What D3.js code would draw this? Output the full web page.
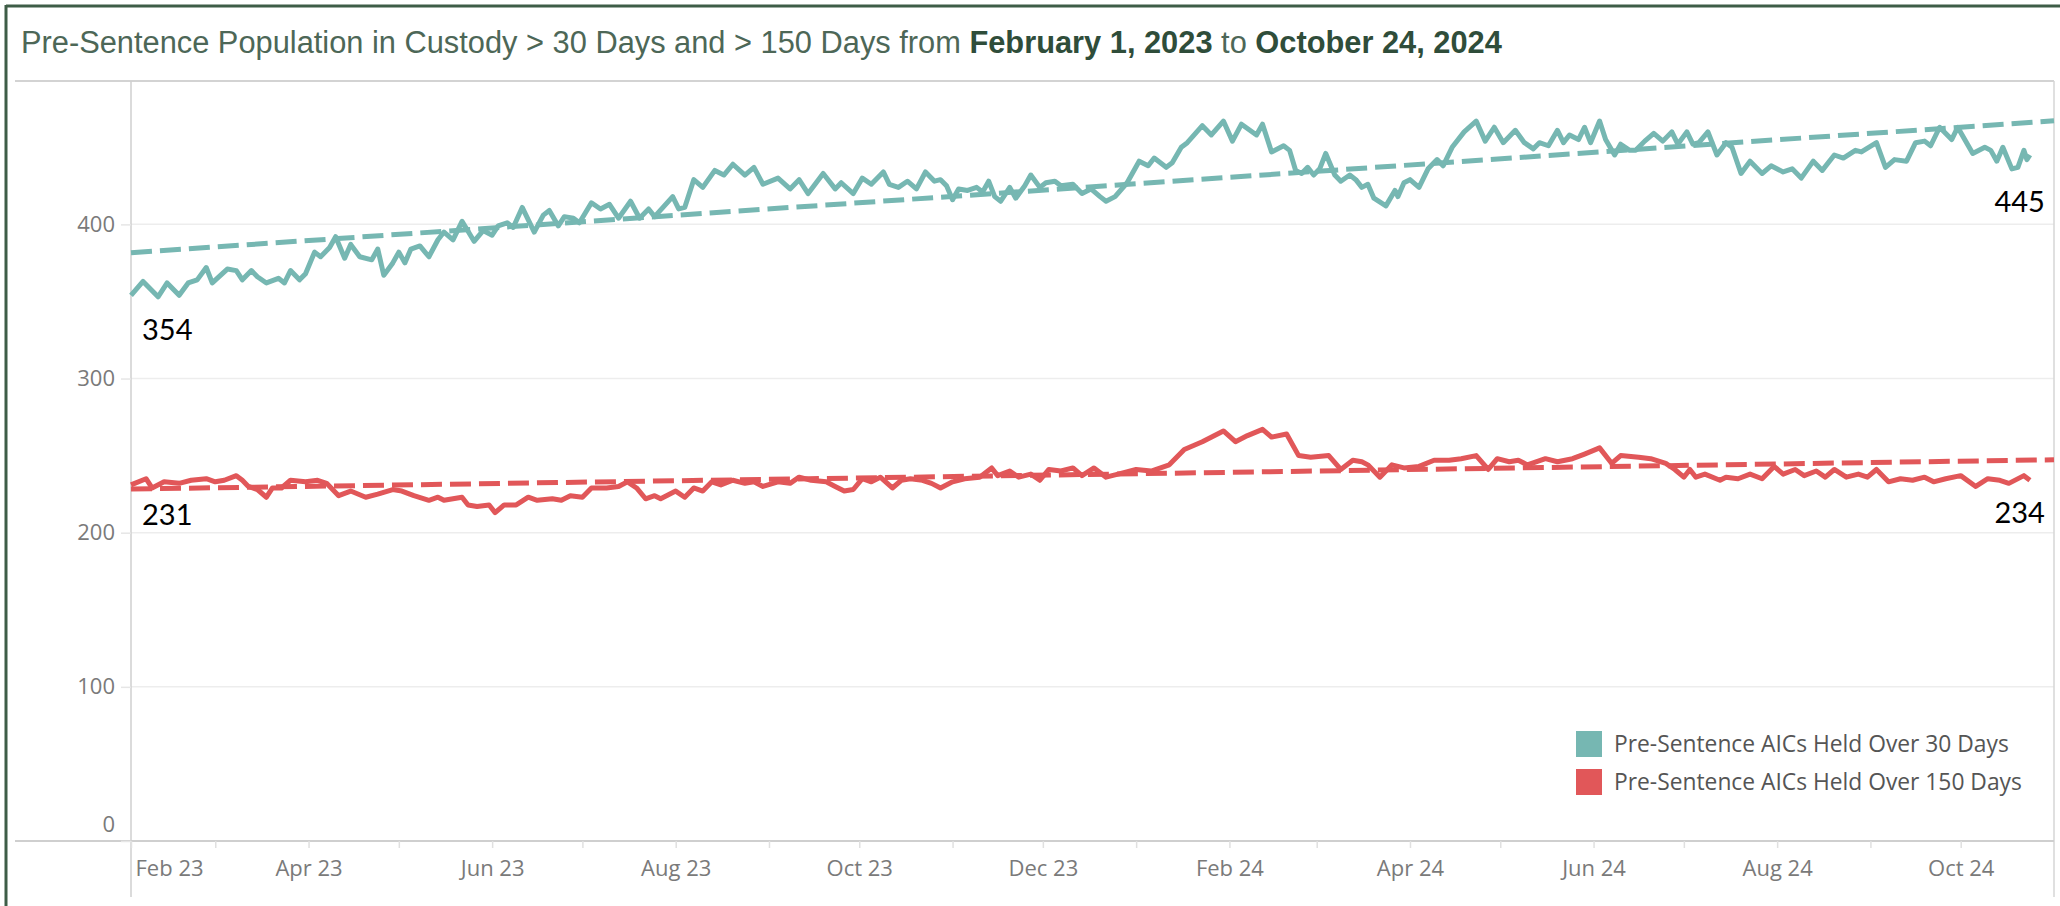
<!DOCTYPE html>
<html>
<head>
<meta charset="utf-8">
<script src="https://cdn.jsdelivr.net/npm/d3@7"></script>
<style>
	body { margin: 0; background: #fff; }
	svg { display: block; }
</style>
</head>
<body>
<script>
// frame and plot edges
var width = 2060, height = 906;
var plot_left = 131, plot_right = 2054, plot_top = 81, plot_zero = 841, plot_bottom = 897;

// Pre-Sentence AICs Held Over 30 Days (peaks and troughs)
var dates30 = [
	'2023-02-01','2023-02-05','2023-02-10','2023-02-13','2023-02-17','2023-02-20','2023-02-23','2023-02-26','2023-02-28',
	'2023-03-05','2023-03-08','2023-03-10','2023-03-13','2023-03-15','2023-03-18','2023-03-22','2023-03-24','2023-03-26','2023-03-29','2023-03-31',
	'2023-04-03','2023-04-05','2023-04-08','2023-04-10','2023-04-13','2023-04-15','2023-04-18','2023-04-22','2023-04-24','2023-04-26','2023-04-29',
	'2023-05-01','2023-05-03','2023-05-05','2023-05-08','2023-05-11','2023-05-14','2023-05-16','2023-05-19','2023-05-22','2023-05-26','2023-05-29',
	'2023-06-01','2023-06-03','2023-06-06','2023-06-08','2023-06-11','2023-06-15','2023-06-18','2023-06-20','2023-06-23','2023-06-25','2023-06-28','2023-06-30',
	'2023-07-04','2023-07-07','2023-07-10','2023-07-13','2023-07-17','2023-07-20','2023-07-23','2023-07-25','2023-07-31',
	'2023-08-02','2023-08-04','2023-08-07','2023-08-10','2023-08-14','2023-08-17','2023-08-20','2023-08-24','2023-08-27','2023-08-30',
	'2023-09-04','2023-09-08','2023-09-11','2023-09-14','2023-09-19','2023-09-23','2023-09-25','2023-09-29',
	'2023-10-02','2023-10-05','2023-10-09','2023-10-11','2023-10-14','2023-10-17','2023-10-20','2023-10-23','2023-10-26','2023-10-28','2023-10-30',
	'2023-11-01','2023-11-03','2023-11-06','2023-11-09','2023-11-11','2023-11-13','2023-11-15','2023-11-17','2023-11-20','2023-11-22','2023-11-25','2023-11-27','2023-11-30',
	'2023-12-02','2023-12-05','2023-12-07','2023-12-11','2023-12-14','2023-12-17','2023-12-20','2023-12-22','2023-12-25','2023-12-29',
	'2024-01-02','2024-01-05','2024-01-07','2024-01-11','2024-01-13','2024-01-16','2024-01-18','2024-01-23','2024-01-26','2024-01-30',
	'2024-02-02','2024-02-05','2024-02-10','2024-02-12','2024-02-15','2024-02-19','2024-02-21','2024-02-23','2024-02-25','2024-02-27','2024-02-29',
	'2024-03-02','2024-03-04','2024-03-07','2024-03-09','2024-03-12','2024-03-14','2024-03-16','2024-03-18','2024-03-20','2024-03-24','2024-03-27','2024-03-28','2024-03-30',
	'2024-04-01','2024-04-04','2024-04-07','2024-04-10','2024-04-12','2024-04-15','2024-04-19','2024-04-23','2024-04-26','2024-04-29',
	'2024-05-02','2024-05-06','2024-05-09','2024-05-12','2024-05-14','2024-05-17','2024-05-20','2024-05-22','2024-05-24','2024-05-27','2024-05-29','2024-05-31',
	'2024-06-03','2024-06-05','2024-06-08','2024-06-10','2024-06-13','2024-06-15','2024-06-18','2024-06-21','2024-06-24','2024-06-27','2024-06-29',
	'2024-07-02','2024-07-04','2024-07-06','2024-07-09','2024-07-12','2024-07-15','2024-07-17','2024-07-20','2024-07-23','2024-07-27','2024-07-30',
	'2024-08-03','2024-08-06','2024-08-09','2024-08-13','2024-08-16','2024-08-20','2024-08-23','2024-08-27','2024-08-29',
	'2024-09-03','2024-09-06','2024-09-09','2024-09-13','2024-09-16','2024-09-19','2024-09-21','2024-09-24','2024-09-28','2024-09-30',
	'2024-10-05','2024-10-09','2024-10-11','2024-10-13','2024-10-15','2024-10-18','2024-10-20','2024-10-22','2024-10-23','2024-10-24'
];
var values30 = [
	354,363,353,362,354,362,364,372,362,
	371,370,364,370,366,362,365,362,370,364,368,
	382,379,385,392,378,387,379,377,384,367,375,
	382,375,384,386,379,390,395,390,402,389,396,
	393,399,401,398,411,395,406,409,399,405,404,401,
	414,410,413,404,415,404,410,405,418,
	410,411,429,424,435,432,439,432,437,426,
	430,423,429,420,433,423,427,420,
	430,426,434,426,424,428,423,434,428,429,425,
	416,423,422,424,421,428,418,415,424,417,425,432,424,
	427,428,425,426,420,423,418,415,418,427,
	441,438,443,437,440,450,453,464,458,467,
	454,465,458,465,447,451,448,435,433,437,432,
	436,446,432,428,432,429,424,426,417,412,422,418,427,
	429,424,436,442,438,450,460,467,454,463,
	453,461,453,449,453,451,461,453,458,455,463,453,
	467,455,445,452,448,448,454,459,454,460,452,
	460,452,453,460,445,453,450,433,441,433,438,
	434,436,430,441,435,445,443,448,447,
	453,437,442,441,453,454,451,463,455,463,
	446,450,448,441,450,436,437,448,442,445
];

// Pre-Sentence AICs Held Over 150 Days
var dates150 = [
	'2023-02-01','2023-02-06','2023-02-08','2023-02-12','2023-02-17','2023-02-21','2023-02-26',
	'2023-03-01','2023-03-04','2023-03-08','2023-03-10','2023-03-12','2023-03-15','2023-03-18','2023-03-20','2023-03-23','2023-03-26','2023-03-31',
	'2023-04-04','2023-04-07','2023-04-11','2023-04-15','2023-04-20','2023-04-24','2023-04-29',
	'2023-05-02','2023-05-06','2023-05-11','2023-05-14','2023-05-16','2023-05-22','2023-05-24','2023-05-27','2023-05-31',
	'2023-06-02','2023-06-05','2023-06-09','2023-06-13','2023-06-16','2023-06-21','2023-06-24','2023-06-27',
	'2023-07-01','2023-07-04','2023-07-09','2023-07-13','2023-07-16','2023-07-19','2023-07-22','2023-07-25','2023-07-27',
	'2023-08-01','2023-08-04','2023-08-07','2023-08-10','2023-08-13','2023-08-16','2023-08-20','2023-08-24','2023-08-27','2023-08-30',
	'2023-09-04','2023-09-08','2023-09-11','2023-09-15','2023-09-20','2023-09-23','2023-09-26','2023-09-29',
	'2023-10-02','2023-10-05','2023-10-08','2023-10-12','2023-10-15','2023-10-18','2023-10-22','2023-10-25','2023-10-28',
	'2023-11-01','2023-11-05','2023-11-10','2023-11-14','2023-11-16','2023-11-20','2023-11-23','2023-11-27','2023-11-30',
	'2023-12-03','2023-12-07','2023-12-11','2023-12-14','2023-12-18','2023-12-22','2023-12-26',
	'2024-01-01','2024-01-06','2024-01-12','2024-01-17','2024-01-23','2024-01-30',
	'2024-02-03','2024-02-07','2024-02-12','2024-02-15','2024-02-20','2024-02-24','2024-02-28',
	'2024-03-05','2024-03-09','2024-03-13','2024-03-16','2024-03-18','2024-03-22','2024-03-26','2024-03-30',
	'2024-04-04','2024-04-09','2024-04-14','2024-04-18','2024-04-23','2024-04-27','2024-04-30',
	'2024-05-04','2024-05-07','2024-05-10','2024-05-16','2024-05-20','2024-05-25','2024-05-29',
	'2024-06-03','2024-06-07','2024-06-10','2024-06-16','2024-06-20','2024-06-25','2024-06-28',
	'2024-07-01','2024-07-03','2024-07-05','2024-07-08','2024-07-13','2024-07-15','2024-07-19','2024-07-23','2024-07-27','2024-07-31',
	'2024-08-03','2024-08-07','2024-08-10','2024-08-14','2024-08-17','2024-08-20','2024-08-24','2024-08-28','2024-08-31',
	'2024-09-03','2024-09-07','2024-09-11','2024-09-15','2024-09-19','2024-09-22','2024-09-26',
	'2024-10-01','2024-10-06','2024-10-10','2024-10-14','2024-10-17','2024-10-22','2024-10-24'
];
var values150 = [
	231,235,229,233,232,234,235,
	233,234,237,234,230,228,223,229,229,234,233,
	234,232,224,227,223,225,228,
	227,224,221,223,221,223,218,217,218,
	213,218,218,223,221,222,221,224,
	223,229,229,230,233,229,222,224,222,
	227,223,229,227,233,231,234,232,233,230,
	233,232,236,234,233,230,227,228,
	235,233,236,229,234,235,234,232,229,
	233,235,236,242,237,240,236,238,234,
	241,240,242,237,242,236,238,
	241,240,244,254,259,266,
	259,263,267,262,264,250,249,
	250,241,247,246,244,236,244,242,
	243,247,247,248,250,241,248,
	246,247,244,248,246,248,251,
	255,245,250,249,248,245,241,
	236,241,236,238,234,236,235,238,235,243,
	238,241,237,240,236,241,236,238,236,
	241,233,235,234,236,233,235,
	237,230,235,234,232,237,234
];

// linear trend lines, value at each end of the date axis
var trendDates = ['2023-02-01', '2024-11-01'];
var trend30 = [381.6, 467.2];
var trend150 = [228.3, 247.3];

var yTicks = [0, 100, 200, 300, 400];
var yMax = 493;

var seriesNames = ['Pre-Sentence AICs Held Over 30 Days', 'Pre-Sentence AICs Held Over 150 Days'];
var titleParts = [
	['Pre-Sentence Population in Custody > 30 Days and > 150 Days from ', false],
	['February 1, 2023', true],
	[' to ', false],
	['October 24, 2024', true]
];

var teal = '#76b7b2', red = '#e15759';
var parseDate = d3.utcParse('%Y-%m-%d');

function plot_it() {
	var svg = d3.select('body')
		.append('svg')
		.attr('width', width)
		.attr('height', height);

	var xScale = d3.scaleUtc()
		.domain([parseDate(trendDates[0]), parseDate(trendDates[1])])
		.range([plot_left, plot_right]);

	var yScale = d3.scaleLinear()
		.domain([0, yMax])
		.range([plot_zero, plot_top]);

	// outer frame (only top and left show in the crop)
	svg.append('line').attr('x1', 6).attr('x2', width).attr('y1', 6).attr('y2', 6)
		.attr('stroke', '#3e5d47').attr('stroke-width', 3);
	svg.append('line').attr('x1', 6).attr('x2', 6).attr('y1', 5).attr('y2', height)
		.attr('stroke', '#3e5d47').attr('stroke-width', 3);

	// title
	var title = svg.append('text')
		.attr('x', 21).attr('y', 53)
		.attr('font-family', 'Liberation Sans, Arial, sans-serif')
		.attr('font-size', '30.8px')
		.attr('fill', '#3f5b49');
	title.selectAll('tspan')
		.data(titleParts)
		.enter()
		.append('tspan')
		.attr('font-weight', function(d){ return d[1] ? 'bold' : 'normal'; })
		.attr('fill', function(d){ return d[1] ? '#2f4d3a' : '#4d6757'; })
		.text(function(d){ return d[0]; });

	// gridlines
	svg.append('g')
		.selectAll('line')
		.data(yTicks.filter(function(d){ return d > 0; }))
		.enter()
		.append('line')
		.attr('x1', plot_left).attr('x2', plot_right)
		.attr('y1', function(d){ return yScale(d); })
		.attr('y2', function(d){ return yScale(d); })
		.attr('stroke', '#ededed').attr('stroke-width', 1.5);

	// pane borders
	svg.append('line').attr('x1', 15).attr('x2', plot_right).attr('y1', plot_top).attr('y2', plot_top)
		.attr('stroke', '#d3d3d3').attr('stroke-width', 2);
	svg.append('line').attr('x1', plot_right).attr('x2', plot_right).attr('y1', plot_top).attr('y2', plot_bottom)
		.attr('stroke', '#d6d6d6').attr('stroke-width', 1.5);
	svg.append('line').attr('x1', plot_left).attr('x2', plot_left).attr('y1', plot_top).attr('y2', plot_bottom)
		.attr('stroke', '#cfcfcf').attr('stroke-width', 1.5);
	svg.append('line').attr('x1', 15).attr('x2', plot_right).attr('y1', plot_zero).attr('y2', plot_zero)
		.attr('stroke', '#cfcfcf').attr('stroke-width', 2);

	// y axis
	var yAxis = d3.axisLeft(yScale)
		.tickValues(yTicks)
		.tickSize(10)
		.tickPadding(6);
	var gy = svg.append('g')
		.attr('transform', 'translate(' + plot_left + ',0)')
		.call(yAxis);
	gy.select('.domain').remove();
	gy.selectAll('.tick line').attr('stroke', '#e6e6e6').attr('stroke-width', 1.5);
	gy.selectAll('.tick text')
		.attr('font-family', 'Open Sans, sans-serif')
		.attr('font-size', '22px')
		.attr('fill', '#7a7a7a')
		.filter(function(d){ return d == 0; })
		.attr('dy', '-0.45em');

	// x axis, a tick every month and a label every two
	var fmt = d3.utcFormat('%b %y');
	var months = d3.utcMonth.range(xScale.domain()[0], xScale.domain()[1]);
	var xAxis = d3.axisBottom(xScale)
		.tickValues(months)
		.tickSize(7)
		.tickPadding(12)
		.tickFormat(function(d){ return d.getUTCMonth() % 2 == 1 ? fmt(d) : ''; });
	var gx = svg.append('g')
		.attr('transform', 'translate(0,' + plot_zero + ')')
		.call(xAxis);
	gx.select('.domain').remove();
	gx.selectAll('.tick line').attr('stroke', '#e0e0e0').attr('stroke-width', 1.5);
	gx.selectAll('.tick text')
		.attr('font-family', 'Open Sans, sans-serif')
		.attr('font-size', '22px')
		.attr('fill', '#7a7a7a')
		.filter(function(d, i){ return i == 0; })
		.attr('text-anchor', 'start')
		.attr('x', 4);

	// trend lines
	var trendLine = d3.line()
		.x(function(d, i){ return xScale(parseDate(trendDates[i])); })
		.y(function(d){ return yScale(d); });
	[[trend30, teal], [trend150, red]].forEach(function(t){
		svg.append('path')
			.attr('d', trendLine(t[0]))
			.attr('fill', 'none')
			.attr('stroke', t[1])
			.attr('stroke-width', 5)
			.attr('stroke-dasharray', '21,8');
	});

	// series lines
	var series = [
		{ dates: dates30, values: values30, color: teal },
		{ dates: dates150, values: values150, color: red }
	];
	var line = d3.line()
		.x(function(d){ return xScale(d.date); })
		.y(function(d){ return yScale(d.value); });
	series.forEach(function(s){
		var pts = s.dates.map(function(d, i){ return { date: parseDate(d), value: s.values[i] }; });
		s.points = pts;
		svg.append('path')
			.datum(pts)
			.attr('d', line)
			.attr('fill', 'none')
			.attr('stroke', s.color)
			.attr('stroke-width', 5)
			.attr('stroke-linejoin', 'round');
	});

	// first and last value labels
	var labels = [
		{ p: series[0].points[0], anchor: 'start', dx: 11, dy: 45 },
		{ p: series[1].points[0], anchor: 'start', dx: 11, dy: 40 },
		{ p: series[0].points[series[0].points.length - 1], anchor: 'end', dx: 15, dy: 57 },
		{ p: series[1].points[series[1].points.length - 1], anchor: 'end', dx: 15, dy: 43 }
	];
	svg.append('g')
		.selectAll('text')
		.data(labels)
		.enter()
		.append('text')
		.attr('x', function(d){ return xScale(d.p.date) + d.dx; })
		.attr('y', function(d){ return yScale(d.p.value) + d.dy; })
		.attr('text-anchor', function(d){ return d.anchor; })
		.attr('font-family', 'Lato, sans-serif')
		.attr('font-size', '29px')
		.attr('fill', '#000')
		.text(function(d){ return d.p.value; });

	// legend
	var legend = svg.append('g')
		.attr('transform', 'translate(1576,731)');
	var items = legend.selectAll('g')
		.data(seriesNames)
		.enter()
		.append('g')
		.attr('transform', function(d, i){ return 'translate(0,' + (i * 38) + ')'; });
	items.append('rect')
		.attr('width', 26).attr('height', 26)
		.attr('fill', function(d, i){ return i == 0 ? teal : red; });
	items.append('text')
		.attr('x', 38).attr('y', 21)
		.attr('font-family', 'Open Sans, sans-serif')
		.attr('font-size', '22.8px')
		.attr('fill', '#555')
		.text(function(d){ return d; });
}

plot_it();
</script>
</body>
</html>
